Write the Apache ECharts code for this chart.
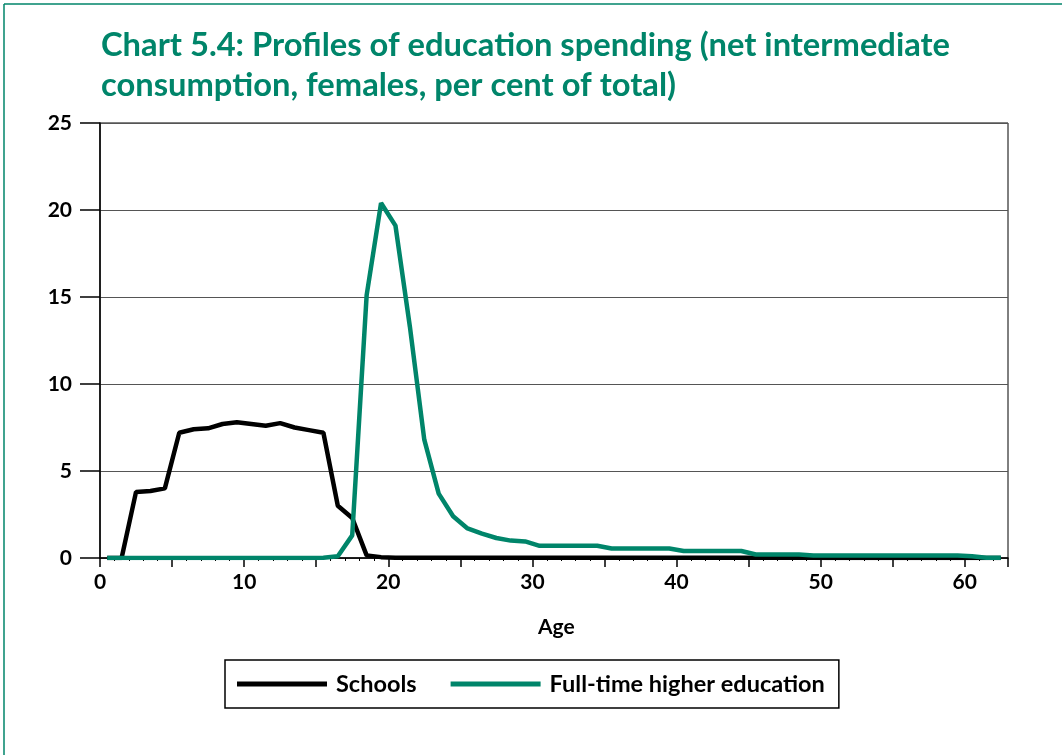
<!DOCTYPE html>
<html>
<head>
<meta charset="utf-8">
<script src="https://cdn.jsdelivr.net/npm/echarts@6/dist/echarts.min.js"></script>
<style>
  html, body { margin: 0; padding: 0; background: #fff; }
  #chart { width: 1062px; height: 755px; }
</style>
</head>
<body>
<div id="chart"></div>
<script>
// ages 0..62, points plotted at the middle of each year
const ages = [];
for (let a = 0; a <= 62; a++) ages.push(a);

const schools = [
  0, 0, 3.8, 3.85, 4.0, 7.2, 7.4, 7.45, 7.7, 7.8,
  7.7, 7.6, 7.75, 7.5, 7.35, 7.2, 3.0, 2.3, 0.15, 0.05,
  0.02, 0.02, 0.02, 0.02, 0.02, 0.02, 0.02, 0.02, 0.02, 0.02,
  0.02, 0.02, 0.02, 0.02, 0.02, 0.02, 0.02, 0.02, 0.02, 0.02,
  0.01, 0.01, 0.01, 0.01, 0.01, 0.01, 0.01, 0.01, 0.01, 0.01,
  0, 0, 0, 0, 0, 0, 0, 0, 0, 0,
  0, 0, 0
];

const higherEd = [
  0, 0, 0, 0, 0, 0, 0, 0, 0, 0,
  0, 0, 0, 0, 0, 0.02, 0.1, 1.3, 15.1, 20.4,
  19.1, 13.3, 6.8, 3.7, 2.4, 1.7, 1.4, 1.15, 1.0, 0.95,
  0.7, 0.7, 0.7, 0.7, 0.7, 0.55, 0.55, 0.55, 0.55, 0.55,
  0.4, 0.4, 0.4, 0.4, 0.4, 0.2, 0.2, 0.2, 0.2, 0.15,
  0.15, 0.15, 0.15, 0.15, 0.15, 0.15, 0.15, 0.15, 0.15, 0.15,
  0.1, 0.02, 0.02
];

const GREEN = '#00856a';
const FONT = 'Lato, "Open Sans", sans-serif';

const chart = echarts.init(document.getElementById('chart'));

const toPoints = function (vals) {
  return ages.map(function (a, i) { return [a + 0.5, vals[i]]; });
};

const option = {
  animation: false,
  backgroundColor: '#fff',
  textStyle: { fontFamily: FONT },
  title: {
    text: 'Chart 5.4: Profiles of education spending (net intermediate\nconsumption, females, per cent of total)',
    left: 96,
    top: 20,
    textStyle: {
      color: GREEN,
      fontFamily: FONT,
      fontWeight: 'bold',
      fontSize: 32.7,
      lineHeight: 40
    }
  },
  graphic: [
    { type: 'line', shape: { x1: 4, y1: 4, x2: 1062, y2: 4 }, style: { stroke: GREEN, lineWidth: 1.5 } },
    { type: 'line', shape: { x1: 4, y1: 4, x2: 4, y2: 755 }, style: { stroke: GREEN, lineWidth: 1.5 } },
    { type: 'text', left: 538, top: 617, style: { text: 'Age', font: 'bold 21px ' + FONT, fill: '#000' } }
  ],
  grid: { left: 100, right: 54, top: 123, bottom: 197, show: true, borderColor: '#000', borderWidth: 1 },
  legend: {
    left: 225,
    top: 660,
    width: 620,
    padding: [12, 14, 12, 12],
    itemGap: 34,
    itemWidth: 90,
    itemHeight: 5,
    icon: 'rect',
    borderColor: '#000',
    borderWidth: 1.5,
    textStyle: { fontFamily: FONT, fontWeight: 'bold', fontSize: 23.5, color: '#000', padding: [0, 0, 0, 4] },
    data: ['Schools', 'Full-time higher education']
  },
  xAxis: {
    type: 'value',
    min: 0,
    max: 63,
    interval: 5,
    axisLine: { show: true, onZero: false, lineStyle: { color: '#000', width: 1.5 } },
    axisTick: { show: true, length: 9, lineStyle: { color: '#000', width: 1.5 } },
    minorTick: { show: true, splitNumber: 5, length: 3, lineStyle: { color: '#000' } },
    splitLine: { show: false },
    axisLabel: {
      color: '#000',
      fontWeight: 'bold',
      fontSize: 21,
      margin: 14,
      showMaxLabel: false,
      formatter: function (v) { return v % 10 === 0 ? String(v) : ''; }
    }
  },
  yAxis: {
    type: 'value',
    min: 0,
    max: 25,
    interval: 5,
    axisLine: { show: true, lineStyle: { color: '#000', width: 1.5 } },
    axisTick: { show: true, length: 20, lineStyle: { color: '#000', width: 1.5 } },
    splitLine: { show: true, lineStyle: { color: '#555', width: 1 } },
    axisLabel: { color: '#000', fontWeight: 'bold', fontSize: 21, margin: 28 }
  },
  series: [
    {
      name: 'Schools',
      type: 'line',
      data: toPoints(schools),
      showSymbol: false,
      color: '#000',
      lineStyle: { color: '#000', width: 4.5 },
      z: 3
    },
    {
      name: 'Full-time higher education',
      type: 'line',
      data: toPoints(higherEd),
      showSymbol: false,
      color: GREEN,
      lineStyle: { color: GREEN, width: 4.5 },
      z: 4
    }
  ]
};

chart.setOption(option);
</script>
</body>
</html>
